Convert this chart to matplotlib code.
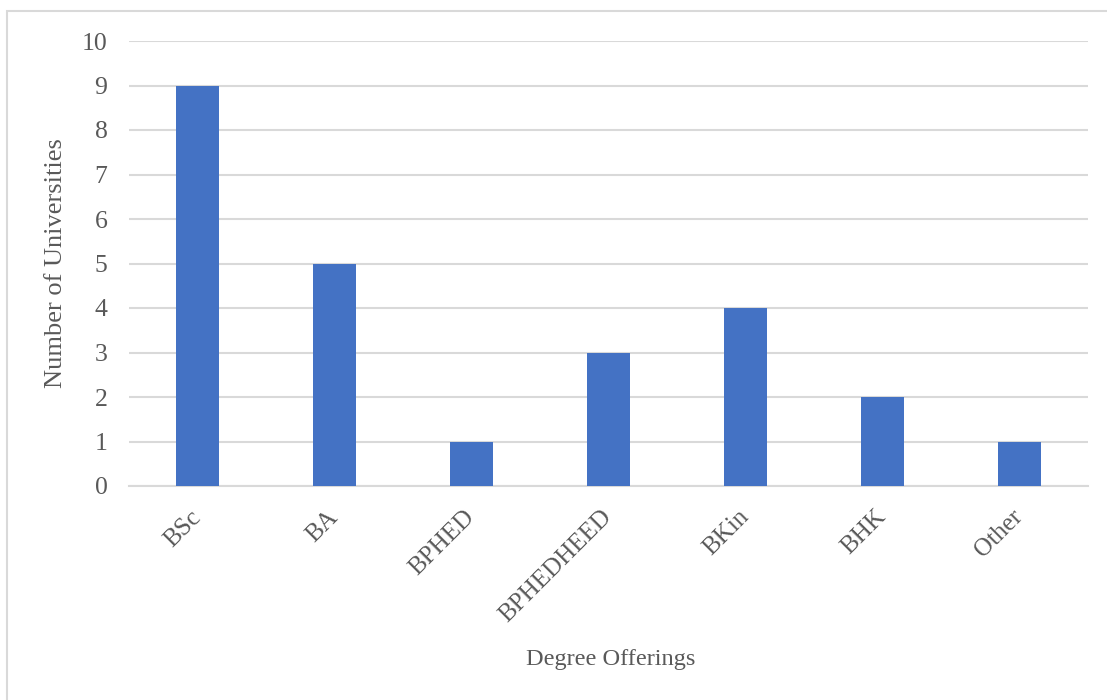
import matplotlib
matplotlib.use("Agg")
import matplotlib.pyplot as plt
from matplotlib.patches import Rectangle

degrees = ["BSc", "BA", "BPHED", "BPHEDHEED", "BKin", "BHK", "Other"]
universities = [9, 5, 1, 3, 4, 2, 1]
y_ticks = list(range(0, 11))

plt.rcParams["font.family"] = ["Liberation Serif", "DejaVu Serif"]
text_color = "#595959"
grid_color = "#D9D9D9"
bar_color = "#4472C4"

W, H = 1107, 700
fig = plt.figure(figsize=(W / 100, H / 100), dpi=100)

# chart-area frame (only top and left edges fall inside the canvas)
fig.patches.append(Rectangle((7 / W, -0.05), 1.2, (H - 11) / H + 0.05,
                             transform=fig.transFigure, fill=False,
                             edgecolor=grid_color, linewidth=1.5))

left, right, top, bottom = 129, 1088, 41, 486
ax = fig.add_axes([left / W, 1 - bottom / H, (right - left) / W, (bottom - top) / H])

x = range(len(degrees))
ax.bar(x, universities, width=0.315, color=bar_color, zorder=3)

ax.set_xlim(-0.5, len(degrees) - 0.5)
ax.set_ylim(0, 10)
ax.set_yticks(y_ticks)
ax.set_yticklabels([str(v) for v in y_ticks])
ax.yaxis.grid(True, color=grid_color, linewidth=1.5, zorder=0)
ax.set_axisbelow(True)

for side in ["top", "right", "left"]:
    ax.spines[side].set_visible(False)
ax.spines["bottom"].set_color(grid_color)
ax.spines["bottom"].set_linewidth(1.5)

ax.tick_params(axis="both", length=0, colors=text_color, labelsize=18.5)
ax.tick_params(axis="y", pad=15.5)
ax.set_xticks(list(x))
ax.set_xticklabels(degrees, rotation=45, ha="right", va="center",
                   rotation_mode="anchor", color=text_color, fontsize=18)
ax.tick_params(axis="x", pad=20)

fig.text(56 / W, 1 - 263 / H, "Number of Universities", fontsize=19,
         color=text_color, rotation=90, ha="center", va="center")
fig.text(611 / W, 1 - 660 / H, "Degree Offerings", fontsize=17.6,
         color=text_color, ha="center", va="center")

fig.savefig("out.png", dpi=100)
